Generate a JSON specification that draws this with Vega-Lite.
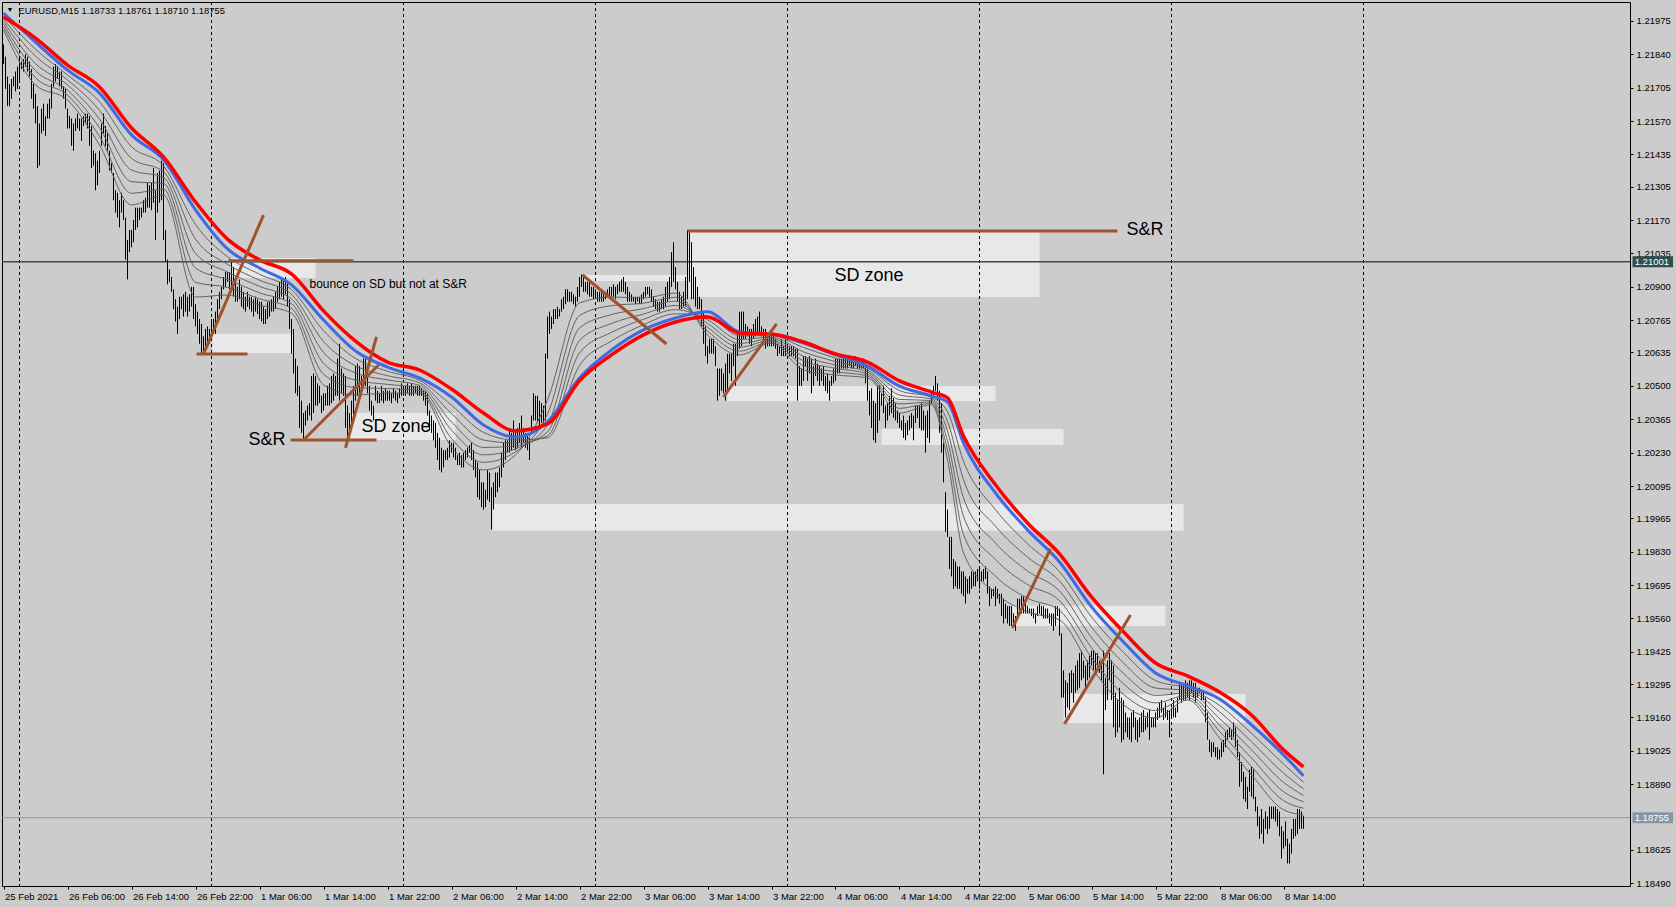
{
"$schema":"https://vega.github.io/schema/vega-lite/v6.json",
"width":1628,"height":884,
"autosize":{"type":"none"},
"padding":{"left":2,"top":2,"right":46,"bottom":21},
"background":"#CCCCCC",
"config":{"view":{"stroke":"#000000","strokeWidth":1,"fill":"#CCCCCC"},
"axis":{"grid":false,"domain":false,"tickColor":"#000000","tickSize":3,"labelColor":"#000000","labelFont":"Liberation Sans","labelFontSize":9.5,"labelOverlap":false,"labelFlush":false},
"axisY":{"labelOverlap":false},"axisRight":{"labelOverlap":false},"axisQuantitative":{"labelOverlap":false}},
"datasets":{
"zones":[{"i1":113.5,"i2":156,"p1":1.21017,"p2":1.20936},{"i1":104.5,"i2":145,"p1":1.2071,"p2":1.20633},{"i1":173.5,"i2":226,"p1":1.2039,"p2":1.20281},{"i1":244.5,"i2":590,"p1":1.20023,"p2":1.19914},{"i1":342.5,"i2":518,"p1":1.21126,"p2":1.20859},{"i1":290,"i2":342.5,"p1":1.20948,"p2":1.20924},{"i1":362,"i2":496,"p1":1.20499,"p2":1.20439},{"i1":439,"i2":530,"p1":1.20326,"p2":1.20261},{"i1":504.5,"i2":581,"p1":1.19611,"p2":1.1953},{"i1":530,"i2":621,"p1":1.19255,"p2":1.19138}],
"seps":[{"i":8},{"i":104},{"i":200},{"i":296},{"i":392},{"i":488},{"i":584},{"i":680}],
"levels":[{"p":1.21001,"t":"1.21001","k":"hline"},{"p":1.18755,"t":"1.18755","k":"bid"}],
"segs":[{"i1":112.5,"i2":175,"p1":1.21005,"p2":1.21005},{"i1":100,"i2":130,"p1":1.20629,"p2":1.2119},{"i1":96.5,"i2":122,"p1":1.20629,"p2":1.20629},{"i1":143.5,"i2":186.5,"p1":1.20281,"p2":1.20281},{"i1":150,"i2":187.5,"p1":1.20281,"p2":1.20584},{"i1":171,"i2":186.5,"p1":1.20249,"p2":1.20698},{"i1":289.5,"i2":331.5,"p1":1.20948,"p2":1.20669},{"i1":342,"i2":557,"p1":1.21126,"p2":1.21126},{"i1":360,"i2":386.5,"p1":1.20455,"p2":1.2075},{"i1":504.5,"i2":523.5,"p1":1.19522,"p2":1.19841},{"i1":530.5,"i2":563.5,"p1":1.19134,"p2":1.19574}],
"notes":[{"i":1.5,"p":1.22019,"t":"▼","k":"glyph"},{"i":7.5,"p":1.22015,"t":"EURUSD,M15  1.18733 1.18761 1.18710 1.18755","k":"title"},{"i":153,"p":1.20912,"t":"bounce on SD but not at S&R","k":"small"},{"i":122.5,"p":1.20281,"t":"S&R","k":"big"},{"i":179,"p":1.20334,"t":"SD zone","k":"big"},{"i":415.5,"p":1.20944,"t":"SD zone","k":"big"},{"i":561.5,"p":1.2113,"t":"S&R","k":"big"}],
"ma":[
{"i":0,"r":1.2199,"b":1.22006,"g1":1.21995,"g2":1.21983,"g3":1.21972,"g4":1.21961,"g5":1.21949,"g6":1.21938},
{"i":16,"r":1.21905,"b":1.21889,"g1":1.2186,"g2":1.21832,"g3":1.21802,"g4":1.21773,"g5":1.21745,"g6":1.21716},
{"i":32,"r":1.21796,"b":1.21776,"g1":1.21756,"g2":1.21736,"g3":1.21716,"g4":1.21695,"g5":1.21675,"g6":1.21655},
{"i":48,"r":1.21708,"b":1.21683,"g1":1.21648,"g2":1.21613,"g3":1.21578,"g4":1.21543,"g5":1.21508,"g6":1.21473},
{"i":64,"r":1.21542,"b":1.21514,"g1":1.21466,"g2":1.21419,"g3":1.21372,"g4":1.21325,"g5":1.21278,"g6":1.21231},
{"i":80,"r":1.21425,"b":1.21413,"g1":1.21389,"g2":1.21365,"g3":1.21342,"g4":1.21318,"g5":1.21295,"g6":1.21271},
{"i":96,"r":1.21243,"b":1.21211,"g1":1.21152,"g2":1.21093,"g3":1.21035,"g4":1.20976,"g5":1.20918,"g6":1.20859},
{"i":112,"r":1.21093,"b":1.21053,"g1":1.21022,"g2":1.20991,"g3":1.2096,"g4":1.20929,"g5":1.20898,"g6":1.20867},
{"i":128,"r":1.21009,"b":1.20976,"g1":1.20951,"g2":1.20927,"g3":1.20902,"g4":1.20876,"g5":1.20852,"g6":1.20827},
{"i":144,"r":1.20952,"b":1.20908,"g1":1.20889,"g2":1.2087,"g3":1.20851,"g4":1.20832,"g5":1.20813,"g6":1.20794},
{"i":160,"r":1.20803,"b":1.20766,"g1":1.20723,"g2":1.20679,"g3":1.20635,"g4":1.20591,"g5":1.20547,"g6":1.20504},
{"i":176,"r":1.20681,"b":1.20641,"g1":1.20611,"g2":1.20581,"g3":1.20552,"g4":1.20523,"g5":1.20493,"g6":1.20463},
{"i":192,"r":1.20596,"b":1.20576,"g1":1.20559,"g2":1.20541,"g3":1.20524,"g4":1.20506,"g5":1.20489,"g6":1.20471},
{"i":208,"r":1.20564,"b":1.20532,"g1":1.20522,"g2":1.20512,"g3":1.20502,"g4":1.20492,"g5":1.20481,"g6":1.20471},
{"i":224,"r":1.20487,"b":1.20455,"g1":1.20422,"g2":1.20388,"g3":1.20354,"g4":1.20321,"g5":1.20287,"g6":1.20253},
{"i":240,"r":1.2039,"b":1.20342,"g1":1.20312,"g2":1.20281,"g3":1.20251,"g4":1.20221,"g5":1.20191,"g6":1.2016},
{"i":256,"r":1.20318,"b":1.20293,"g1":1.20281,"g2":1.20269,"g3":1.20257,"g4":1.20245,"g5":1.20233,"g6":1.20221},
{"i":272,"r":1.20346,"b":1.20354,"g1":1.2029,"g2":1.20298,"g3":1.20314,"g4":1.20342,"g5":1.20386,"g6":1.20443},
{"i":288,"r":1.2052,"b":1.20532,"g1":1.20582,"g2":1.20633,"g3":1.20683,"g4":1.20734,"g5":1.20784,"g6":1.20835},
{"i":304,"r":1.20625,"b":1.20645,"g1":1.20681,"g2":1.20716,"g3":1.20752,"g4":1.20788,"g5":1.20824,"g6":1.20859},
{"i":320,"r":1.20706,"b":1.20726,"g1":1.20747,"g2":1.20769,"g3":1.2079,"g4":1.20812,"g5":1.20834,"g6":1.20855},
{"i":336,"r":1.20758,"b":1.20774,"g1":1.20791,"g2":1.20808,"g3":1.20825,"g4":1.20842,"g5":1.20858,"g6":1.20875},
{"i":352,"r":1.20778,"b":1.20799,"g1":1.20783,"g2":1.20767,"g3":1.20752,"g4":1.20737,"g5":1.20721,"g6":1.20706},
{"i":368,"r":1.20714,"b":1.20718,"g1":1.20702,"g2":1.20687,"g3":1.20671,"g4":1.20656,"g5":1.2064,"g6":1.20625},
{"i":384,"r":1.20709,"b":1.20709,"g1":1.20703,"g2":1.20697,"g3":1.20691,"g4":1.20685,"g5":1.20679,"g6":1.20673},
{"i":400,"r":1.20677,"b":1.20673,"g1":1.20655,"g2":1.20637,"g3":1.20619,"g4":1.20601,"g5":1.20582,"g6":1.20564},
{"i":416,"r":1.20629,"b":1.20625,"g1":1.20612,"g2":1.20598,"g3":1.20584,"g4":1.20571,"g5":1.20557,"g6":1.20544},
{"i":432,"r":1.20596,"b":1.2058,"g1":1.20572,"g2":1.20564,"g3":1.20556,"g4":1.20548,"g5":1.2054,"g6":1.20532},
{"i":448,"r":1.2052,"b":1.20499,"g1":1.20481,"g2":1.20463,"g3":1.20445,"g4":1.20427,"g5":1.20409,"g6":1.2039},
{"i":464,"r":1.20475,"b":1.20459,"g1":1.20453,"g2":1.20447,"g3":1.20441,"g4":1.20435,"g5":1.20429,"g6":1.20423},
{"i":472,"r":1.20451,"b":1.20435,"g1":1.20396,"g2":1.20357,"g3":1.20318,"g4":1.20278,"g5":1.2024,"g6":1.20201},
{"i":480,"r":1.20297,"b":1.20269,"g1":1.20195,"g2":1.20121,"g3":1.20047,"g4":1.19973,"g5":1.19899,"g6":1.19825},
{"i":496,"r":1.201,"b":1.20067,"g1":1.2,"g2":1.19933,"g3":1.19865,"g4":1.19798,"g5":1.19731,"g6":1.19663},
{"i":512,"r":1.19946,"b":1.19918,"g1":1.19862,"g2":1.19808,"g3":1.19752,"g4":1.19697,"g5":1.19642,"g6":1.19587},
{"i":528,"r":1.19821,"b":1.19788,"g1":1.19749,"g2":1.19711,"g3":1.19671,"g4":1.19632,"g5":1.19593,"g6":1.19554},
{"i":544,"r":1.19647,"b":1.19607,"g1":1.19566,"g2":1.19525,"g3":1.19483,"g4":1.19442,"g5":1.19402,"g6":1.1936},
{"i":560,"r":1.19506,"b":1.19465,"g1":1.19423,"g2":1.1938,"g3":1.19338,"g4":1.19296,"g5":1.19253,"g6":1.19211},
{"i":576,"r":1.1938,"b":1.1934,"g1":1.19309,"g2":1.19279,"g3":1.19249,"g4":1.19219,"g5":1.19188,"g6":1.19158},
{"i":592,"r":1.19328,"b":1.19288,"g1":1.19278,"g2":1.19269,"g3":1.19259,"g4":1.1925,"g5":1.1924,"g6":1.19231},
{"i":608,"r":1.19263,"b":1.19235,"g1":1.19209,"g2":1.19183,"g3":1.19156,"g4":1.1913,"g5":1.19104,"g6":1.19077},
{"i":624,"r":1.1917,"b":1.1913,"g1":1.19096,"g2":1.19062,"g3":1.19029,"g4":1.18996,"g5":1.18962,"g6":1.18928},
{"i":640,"r":1.19029,"b":1.19009,"g1":1.18972,"g2":1.18935,"g3":1.18898,"g4":1.1886,"g5":1.18824,"g6":1.18787},
{"i":650,"r":1.1896,"b":1.18924,"g1":1.18898,"g2":1.18871,"g3":1.18845,"g4":1.18819,"g5":1.18793,"g6":1.18766}
],
"bars":[
{"i":0,"h":1.2188,"l":1.2180},{"i":1,"h":1.2183,"l":1.2170},{"i":2,"h":1.2175,"l":1.2163},{"i":3,"h":1.2172,"l":1.2163},{"i":4,"h":1.2174,"l":1.2166},{"i":5,"h":1.2175,"l":1.2171},{"i":6,"h":1.2177,"l":1.2169},{"i":7,"h":1.2179,"l":1.2170},{"i":8,"h":1.2183,"l":1.2173},{"i":9,"h":1.2181,"l":1.2178},
{"i":10,"h":1.2182,"l":1.2177},{"i":11,"h":1.2184,"l":1.2179},{"i":12,"h":1.2183,"l":1.2177},{"i":13,"h":1.2181,"l":1.2175},{"i":14,"h":1.2178,"l":1.2166},{"i":15,"h":1.2172,"l":1.2162},{"i":16,"h":1.2168,"l":1.2156},{"i":17,"h":1.2163,"l":1.2138},{"i":18,"h":1.2156,"l":1.2139},{"i":19,"h":1.2162,"l":1.2152},
{"i":20,"h":1.2164,"l":1.2153},{"i":21,"h":1.2159,"l":1.2151},{"i":22,"h":1.2164,"l":1.2158},{"i":23,"h":1.2166,"l":1.2158},{"i":24,"h":1.2172,"l":1.2162},{"i":25,"h":1.2179,"l":1.2171},{"i":26,"h":1.2180,"l":1.2173},{"i":27,"h":1.2179,"l":1.2174},{"i":28,"h":1.2177,"l":1.2171},{"i":29,"h":1.2177,"l":1.2170},
{"i":30,"h":1.2171,"l":1.2166},{"i":31,"h":1.2170,"l":1.2162},{"i":32,"h":1.2162,"l":1.2154},{"i":33,"h":1.2159,"l":1.2154},{"i":34,"h":1.2158,"l":1.2147},{"i":35,"h":1.2156,"l":1.2145},{"i":36,"h":1.2158,"l":1.2153},{"i":37,"h":1.2160,"l":1.2154},{"i":38,"h":1.2158,"l":1.2153},{"i":39,"h":1.2158,"l":1.2149},
{"i":40,"h":1.2159,"l":1.2155},{"i":41,"h":1.2160,"l":1.2156},{"i":42,"h":1.2160,"l":1.2154},{"i":43,"h":1.2159,"l":1.2147},{"i":44,"h":1.2155,"l":1.2138},{"i":45,"h":1.2145,"l":1.2139},{"i":46,"h":1.2144,"l":1.2129},{"i":47,"h":1.2141,"l":1.2131},{"i":48,"h":1.2145,"l":1.2136},{"i":49,"h":1.2156,"l":1.2147},
{"i":50,"h":1.2160,"l":1.2152},{"i":51,"h":1.2155,"l":1.2147},{"i":52,"h":1.2152,"l":1.2145},{"i":53,"h":1.2145,"l":1.2137},{"i":54,"h":1.2140,"l":1.2136},{"i":55,"h":1.2136,"l":1.2125},{"i":56,"h":1.2129,"l":1.2120},{"i":57,"h":1.2128,"l":1.2118},{"i":58,"h":1.2125,"l":1.2114},{"i":59,"h":1.2128,"l":1.2120},
{"i":60,"h":1.2125,"l":1.2117},{"i":61,"h":1.2118,"l":1.2101},{"i":62,"h":1.2109,"l":1.2093},{"i":63,"h":1.2113,"l":1.2104},{"i":64,"h":1.2113,"l":1.2106},{"i":65,"h":1.2117,"l":1.2108},{"i":66,"h":1.2122,"l":1.2113},{"i":67,"h":1.2122,"l":1.2114},{"i":68,"h":1.2122,"l":1.2117},{"i":69,"h":1.2122,"l":1.2118},
{"i":70,"h":1.2125,"l":1.2120},{"i":71,"h":1.2126,"l":1.2120},{"i":72,"h":1.2132,"l":1.2122},{"i":73,"h":1.2131,"l":1.2122},{"i":74,"h":1.2132,"l":1.2121},{"i":75,"h":1.2138,"l":1.2124},{"i":76,"h":1.2129,"l":1.2109},{"i":77,"h":1.2136,"l":1.2120},{"i":78,"h":1.2137,"l":1.2124},{"i":79,"h":1.2141,"l":1.2125},
{"i":80,"h":1.2140,"l":1.2109},{"i":81,"h":1.2113,"l":1.2100},{"i":82,"h":1.2101,"l":1.2091},{"i":83,"h":1.2097,"l":1.2092},{"i":84,"h":1.2094,"l":1.2088},{"i":85,"h":1.2089,"l":1.2081},{"i":86,"h":1.2085,"l":1.2076},{"i":87,"h":1.2082,"l":1.2071},{"i":88,"h":1.2086,"l":1.2077},{"i":89,"h":1.2086,"l":1.2081},
{"i":90,"h":1.2087,"l":1.2078},{"i":91,"h":1.2088,"l":1.2080},{"i":92,"h":1.2086,"l":1.2078},{"i":93,"h":1.2087,"l":1.2080},{"i":94,"h":1.2090,"l":1.2082},{"i":95,"h":1.2090,"l":1.2077},{"i":96,"h":1.2083,"l":1.2074},{"i":97,"h":1.2080,"l":1.2071},{"i":98,"h":1.2077,"l":1.2067},{"i":99,"h":1.2075,"l":1.2063},
{"i":100,"h":1.2070,"l":1.2063},{"i":101,"h":1.2073,"l":1.2065},{"i":102,"h":1.2074,"l":1.2066},{"i":103,"h":1.2073,"l":1.2067},{"i":104,"h":1.2077,"l":1.2071},{"i":105,"h":1.2077,"l":1.2071},{"i":106,"h":1.2080,"l":1.2071},{"i":107,"h":1.2085,"l":1.2077},{"i":108,"h":1.2088,"l":1.2081},{"i":109,"h":1.2090,"l":1.2085},
{"i":110,"h":1.2094,"l":1.2089},{"i":111,"h":1.2096,"l":1.2090},{"i":112,"h":1.2096,"l":1.2092},{"i":113,"h":1.2096,"l":1.2089},{"i":114,"h":1.2100,"l":1.2090},{"i":115,"h":1.2098,"l":1.2086},{"i":116,"h":1.2092,"l":1.2084},{"i":117,"h":1.2090,"l":1.2084},{"i":118,"h":1.2093,"l":1.2085},{"i":119,"h":1.2090,"l":1.2082},
{"i":120,"h":1.2088,"l":1.2081},{"i":121,"h":1.2086,"l":1.2080},{"i":122,"h":1.2088,"l":1.2082},{"i":123,"h":1.2086,"l":1.2081},{"i":124,"h":1.2086,"l":1.2080},{"i":125,"h":1.2085,"l":1.2078},{"i":126,"h":1.2086,"l":1.2080},{"i":127,"h":1.2085,"l":1.2079},{"i":128,"h":1.2084,"l":1.2077},{"i":129,"h":1.2084,"l":1.2076},
{"i":130,"h":1.2082,"l":1.2075},{"i":131,"h":1.2081,"l":1.2075},{"i":132,"h":1.2084,"l":1.2077},{"i":133,"h":1.2084,"l":1.2078},{"i":134,"h":1.2085,"l":1.2080},{"i":135,"h":1.2086,"l":1.2080},{"i":136,"h":1.2088,"l":1.2081},{"i":137,"h":1.2090,"l":1.2084},{"i":138,"h":1.2092,"l":1.2085},{"i":139,"h":1.2094,"l":1.2086},
{"i":140,"h":1.2093,"l":1.2085},{"i":141,"h":1.2094,"l":1.2087},{"i":142,"h":1.2092,"l":1.2082},{"i":143,"h":1.2085,"l":1.2073},{"i":144,"h":1.2077,"l":1.2063},{"i":145,"h":1.2073,"l":1.2055},{"i":146,"h":1.2061,"l":1.2047},{"i":147,"h":1.2058,"l":1.2046},{"i":148,"h":1.2050,"l":1.2033},{"i":149,"h":1.2044,"l":1.2031},
{"i":150,"h":1.2039,"l":1.2028},{"i":151,"h":1.2040,"l":1.2034},{"i":152,"h":1.2042,"l":1.2036},{"i":153,"h":1.2043,"l":1.2038},{"i":154,"h":1.2054,"l":1.2036},{"i":155,"h":1.2055,"l":1.2039},{"i":156,"h":1.2054,"l":1.2042},{"i":157,"h":1.2051,"l":1.2042},{"i":158,"h":1.2050,"l":1.2043},{"i":159,"h":1.2046,"l":1.2039},
{"i":160,"h":1.2047,"l":1.2040},{"i":161,"h":1.2047,"l":1.2042},{"i":162,"h":1.2050,"l":1.2042},{"i":163,"h":1.2051,"l":1.2042},{"i":164,"h":1.2054,"l":1.2043},{"i":165,"h":1.2055,"l":1.2044},{"i":166,"h":1.2054,"l":1.2046},{"i":167,"h":1.2061,"l":1.2046},{"i":168,"h":1.2067,"l":1.2044},{"i":169,"h":1.2057,"l":1.2047},
{"i":170,"h":1.2055,"l":1.2046},{"i":171,"h":1.2054,"l":1.2033},{"i":172,"h":1.2042,"l":1.2028},{"i":173,"h":1.2039,"l":1.2029},{"i":174,"h":1.2044,"l":1.2033},{"i":175,"h":1.2050,"l":1.2038},{"i":176,"h":1.2058,"l":1.2044},{"i":177,"h":1.2059,"l":1.2046},{"i":178,"h":1.2058,"l":1.2047},{"i":179,"h":1.2054,"l":1.2047},
{"i":180,"h":1.2061,"l":1.2050},{"i":181,"h":1.2061,"l":1.2050},{"i":182,"h":1.2058,"l":1.2047},{"i":183,"h":1.2050,"l":1.2040},{"i":184,"h":1.2044,"l":1.2038},{"i":185,"h":1.2042,"l":1.2036},{"i":186,"h":1.2050,"l":1.2044},{"i":187,"h":1.2048,"l":1.2043},{"i":188,"h":1.2047,"l":1.2043},{"i":189,"h":1.2050,"l":1.2044},
{"i":190,"h":1.2048,"l":1.2043},{"i":191,"h":1.2049,"l":1.2044},{"i":192,"h":1.2048,"l":1.2044},{"i":193,"h":1.2048,"l":1.2044},{"i":194,"h":1.2047,"l":1.2043},{"i":195,"h":1.2049,"l":1.2045},{"i":196,"h":1.2048,"l":1.2044},{"i":197,"h":1.2047,"l":1.2043},{"i":198,"h":1.2049,"l":1.2045},{"i":199,"h":1.2051,"l":1.2046},
{"i":200,"h":1.2050,"l":1.2046},{"i":201,"h":1.2050,"l":1.2046},{"i":202,"h":1.2051,"l":1.2047},{"i":203,"h":1.2050,"l":1.2046},{"i":204,"h":1.2051,"l":1.2046},{"i":205,"h":1.2050,"l":1.2046},{"i":206,"h":1.2050,"l":1.2047},{"i":207,"h":1.2050,"l":1.2046},{"i":208,"h":1.2050,"l":1.2046},{"i":209,"h":1.2049,"l":1.2046},
{"i":210,"h":1.2048,"l":1.2044},{"i":211,"h":1.2048,"l":1.2042},{"i":212,"h":1.2047,"l":1.2038},{"i":213,"h":1.2040,"l":1.2032},{"i":214,"h":1.2038,"l":1.2031},{"i":215,"h":1.2036,"l":1.2028},{"i":216,"h":1.2035,"l":1.2025},{"i":217,"h":1.2031,"l":1.2020},{"i":218,"h":1.2029,"l":1.2016},{"i":219,"h":1.2025,"l":1.2015},
{"i":220,"h":1.2024,"l":1.2017},{"i":221,"h":1.2024,"l":1.2020},{"i":222,"h":1.2025,"l":1.2020},{"i":223,"h":1.2028,"l":1.2021},{"i":224,"h":1.2027,"l":1.2023},{"i":225,"h":1.2027,"l":1.2021},{"i":226,"h":1.2025,"l":1.2020},{"i":227,"h":1.2022,"l":1.2018},{"i":228,"h":1.2023,"l":1.2018},{"i":229,"h":1.2022,"l":1.2017},
{"i":230,"h":1.2023,"l":1.2017},{"i":231,"h":1.2024,"l":1.2020},{"i":232,"h":1.2025,"l":1.2021},{"i":233,"h":1.2026,"l":1.2023},{"i":234,"h":1.2027,"l":1.2020},{"i":235,"h":1.2024,"l":1.2016},{"i":236,"h":1.2020,"l":1.2013},{"i":237,"h":1.2019,"l":1.2005},{"i":238,"h":1.2016,"l":1.2004},{"i":239,"h":1.2011,"l":1.2001},
{"i":240,"h":1.2011,"l":1.2000},{"i":241,"h":1.2008,"l":1.2001},{"i":242,"h":1.2016,"l":1.2004},{"i":243,"h":1.2015,"l":1.2003},{"i":244,"h":1.2009,"l":1.1992},{"i":245,"h":1.2011,"l":1.2000},{"i":246,"h":1.2015,"l":1.2005},{"i":247,"h":1.2015,"l":1.2007},{"i":248,"h":1.2017,"l":1.2009},{"i":249,"h":1.2023,"l":1.2013},
{"i":250,"h":1.2027,"l":1.2017},{"i":251,"h":1.2028,"l":1.2020},{"i":252,"h":1.2028,"l":1.2023},{"i":253,"h":1.2033,"l":1.2023},{"i":254,"h":1.2031,"l":1.2024},{"i":255,"h":1.2036,"l":1.2025},{"i":256,"h":1.2032,"l":1.2024},{"i":257,"h":1.2033,"l":1.2025},{"i":258,"h":1.2035,"l":1.2027},{"i":259,"h":1.2038,"l":1.2025},
{"i":260,"h":1.2033,"l":1.2027},{"i":261,"h":1.2031,"l":1.2025},{"i":262,"h":1.2031,"l":1.2024},{"i":263,"h":1.2029,"l":1.2020},{"i":264,"h":1.2038,"l":1.2031},{"i":265,"h":1.2047,"l":1.2036},{"i":266,"h":1.2046,"l":1.2036},{"i":267,"h":1.2046,"l":1.2035},{"i":268,"h":1.2044,"l":1.2033},{"i":269,"h":1.2043,"l":1.2035},
{"i":270,"h":1.2042,"l":1.2035},{"i":271,"h":1.2063,"l":1.2036},{"i":272,"h":1.2078,"l":1.2061},{"i":273,"h":1.2080,"l":1.2071},{"i":274,"h":1.2078,"l":1.2073},{"i":275,"h":1.2081,"l":1.2075},{"i":276,"h":1.2081,"l":1.2077},{"i":277,"h":1.2082,"l":1.2077},{"i":278,"h":1.2081,"l":1.2078},{"i":279,"h":1.2085,"l":1.2080},
{"i":280,"h":1.2086,"l":1.2081},{"i":281,"h":1.2089,"l":1.2083},{"i":282,"h":1.2089,"l":1.2084},{"i":283,"h":1.2088,"l":1.2084},{"i":284,"h":1.2088,"l":1.2084},{"i":285,"h":1.2087,"l":1.2083},{"i":286,"h":1.2086,"l":1.2082},{"i":287,"h":1.2090,"l":1.2084},{"i":288,"h":1.2094,"l":1.2086},{"i":289,"h":1.2095,"l":1.2090},
{"i":290,"h":1.2094,"l":1.2088},{"i":291,"h":1.2092,"l":1.2088},{"i":292,"h":1.2092,"l":1.2087},{"i":293,"h":1.2092,"l":1.2086},{"i":294,"h":1.2090,"l":1.2086},{"i":295,"h":1.2090,"l":1.2085},{"i":296,"h":1.2089,"l":1.2086},{"i":297,"h":1.2088,"l":1.2084},{"i":298,"h":1.2088,"l":1.2084},{"i":299,"h":1.2088,"l":1.2084},
{"i":300,"h":1.2088,"l":1.2084},{"i":301,"h":1.2088,"l":1.2085},{"i":302,"h":1.2089,"l":1.2086},{"i":303,"h":1.2090,"l":1.2086},{"i":304,"h":1.2090,"l":1.2086},{"i":305,"h":1.2091,"l":1.2086},{"i":306,"h":1.2090,"l":1.2085},{"i":307,"h":1.2091,"l":1.2087},{"i":308,"h":1.2092,"l":1.2088},{"i":309,"h":1.2093,"l":1.2088},
{"i":310,"h":1.2094,"l":1.2088},{"i":311,"h":1.2092,"l":1.2087},{"i":312,"h":1.2090,"l":1.2084},{"i":313,"h":1.2088,"l":1.2084},{"i":314,"h":1.2087,"l":1.2084},{"i":315,"h":1.2086,"l":1.2084},{"i":316,"h":1.2086,"l":1.2083},{"i":317,"h":1.2086,"l":1.2084},{"i":318,"h":1.2086,"l":1.2083},{"i":319,"h":1.2087,"l":1.2083},
{"i":320,"h":1.2088,"l":1.2085},{"i":321,"h":1.2090,"l":1.2086},{"i":322,"h":1.2090,"l":1.2087},{"i":323,"h":1.2090,"l":1.2086},{"i":324,"h":1.2089,"l":1.2084},{"i":325,"h":1.2086,"l":1.2082},{"i":326,"h":1.2085,"l":1.2081},{"i":327,"h":1.2084,"l":1.2080},{"i":328,"h":1.2084,"l":1.2080},{"i":329,"h":1.2085,"l":1.2081},
{"i":330,"h":1.2086,"l":1.2081},{"i":331,"h":1.2090,"l":1.2082},{"i":332,"h":1.2092,"l":1.2084},{"i":333,"h":1.2094,"l":1.2085},{"i":334,"h":1.2104,"l":1.2090},{"i":335,"h":1.2108,"l":1.2092},{"i":336,"h":1.2098,"l":1.2089},{"i":337,"h":1.2092,"l":1.2084},{"i":338,"h":1.2088,"l":1.2081},{"i":339,"h":1.2086,"l":1.2081},
{"i":340,"h":1.2088,"l":1.2082},{"i":341,"h":1.2094,"l":1.2082},{"i":342,"h":1.2113,"l":1.2085},{"i":343,"h":1.2112,"l":1.2092},{"i":344,"h":1.2108,"l":1.2085},{"i":345,"h":1.2098,"l":1.2085},{"i":346,"h":1.2094,"l":1.2082},{"i":347,"h":1.2090,"l":1.2081},{"i":348,"h":1.2086,"l":1.2081},{"i":349,"h":1.2085,"l":1.2074},
{"i":350,"h":1.2080,"l":1.2067},{"i":351,"h":1.2074,"l":1.2062},{"i":352,"h":1.2066,"l":1.2059},{"i":353,"h":1.2069,"l":1.2063},{"i":354,"h":1.2069,"l":1.2063},{"i":355,"h":1.2069,"l":1.2063},{"i":356,"h":1.2066,"l":1.2058},{"i":357,"h":1.2057,"l":1.2044},{"i":358,"h":1.2057,"l":1.2046},{"i":359,"h":1.2057,"l":1.2048},
{"i":360,"h":1.2055,"l":1.2047},{"i":361,"h":1.2059,"l":1.2044},{"i":362,"h":1.2063,"l":1.2047},{"i":363,"h":1.2063,"l":1.2055},{"i":364,"h":1.2063,"l":1.2052},{"i":365,"h":1.2067,"l":1.2058},{"i":366,"h":1.2067,"l":1.2050},{"i":367,"h":1.2071,"l":1.2062},{"i":368,"h":1.2080,"l":1.2065},{"i":369,"h":1.2080,"l":1.2066},
{"i":370,"h":1.2080,"l":1.2069},{"i":371,"h":1.2075,"l":1.2069},{"i":372,"h":1.2074,"l":1.2070},{"i":373,"h":1.2073,"l":1.2067},{"i":374,"h":1.2073,"l":1.2066},{"i":375,"h":1.2075,"l":1.2069},{"i":376,"h":1.2077,"l":1.2070},{"i":377,"h":1.2078,"l":1.2071},{"i":378,"h":1.2080,"l":1.2071},{"i":379,"h":1.2074,"l":1.2070},
{"i":380,"h":1.2073,"l":1.2069},{"i":381,"h":1.2073,"l":1.2065},{"i":382,"h":1.2071,"l":1.2066},{"i":383,"h":1.2071,"l":1.2066},{"i":384,"h":1.2071,"l":1.2066},{"i":385,"h":1.2070,"l":1.2066},{"i":386,"h":1.2069,"l":1.2065},{"i":387,"h":1.2067,"l":1.2062},{"i":388,"h":1.2066,"l":1.2063},{"i":389,"h":1.2069,"l":1.2062},
{"i":390,"h":1.2066,"l":1.2062},{"i":391,"h":1.2069,"l":1.2062},{"i":392,"h":1.2067,"l":1.2063},{"i":393,"h":1.2066,"l":1.2062},{"i":394,"h":1.2066,"l":1.2062},{"i":395,"h":1.2066,"l":1.2062},{"i":396,"h":1.2065,"l":1.2061},{"i":397,"h":1.2065,"l":1.2044},{"i":398,"h":1.2058,"l":1.2050},{"i":399,"h":1.2057,"l":1.2050},
{"i":400,"h":1.2062,"l":1.2052},{"i":401,"h":1.2062,"l":1.2058},{"i":402,"h":1.2061,"l":1.2052},{"i":403,"h":1.2062,"l":1.2055},{"i":404,"h":1.2061,"l":1.2047},{"i":405,"h":1.2058,"l":1.2050},{"i":406,"h":1.2061,"l":1.2054},{"i":407,"h":1.2059,"l":1.2052},{"i":408,"h":1.2058,"l":1.2050},{"i":409,"h":1.2057,"l":1.2052},
{"i":410,"h":1.2058,"l":1.2050},{"i":411,"h":1.2054,"l":1.2048},{"i":412,"h":1.2055,"l":1.2047},{"i":413,"h":1.2052,"l":1.2044},{"i":414,"h":1.2054,"l":1.2050},{"i":415,"h":1.2057,"l":1.2051},{"i":416,"h":1.2061,"l":1.2052},{"i":417,"h":1.2061,"l":1.2055},{"i":418,"h":1.2061,"l":1.2055},{"i":419,"h":1.2061,"l":1.2057},
{"i":420,"h":1.2062,"l":1.2057},{"i":421,"h":1.2062,"l":1.2057},{"i":422,"h":1.2062,"l":1.2057},{"i":423,"h":1.2062,"l":1.2058},{"i":424,"h":1.2061,"l":1.2057},{"i":425,"h":1.2061,"l":1.2057},{"i":426,"h":1.2062,"l":1.2058},{"i":427,"h":1.2061,"l":1.2057},{"i":428,"h":1.2061,"l":1.2057},{"i":429,"h":1.2061,"l":1.2057},
{"i":430,"h":1.2061,"l":1.2057},{"i":431,"h":1.2059,"l":1.2051},{"i":432,"h":1.2057,"l":1.2044},{"i":433,"h":1.2048,"l":1.2038},{"i":434,"h":1.2049,"l":1.2033},{"i":435,"h":1.2044,"l":1.2028},{"i":436,"h":1.2043,"l":1.2027},{"i":437,"h":1.2050,"l":1.2031},{"i":438,"h":1.2050,"l":1.2036},{"i":439,"h":1.2047,"l":1.2042},
{"i":440,"h":1.2050,"l":1.2039},{"i":441,"h":1.2042,"l":1.2033},{"i":442,"h":1.2043,"l":1.2036},{"i":443,"h":1.2046,"l":1.2038},{"i":444,"h":1.2049,"l":1.2039},{"i":445,"h":1.2045,"l":1.2037},{"i":446,"h":1.2043,"l":1.2036},{"i":447,"h":1.2040,"l":1.2035},{"i":448,"h":1.2039,"l":1.2033},{"i":449,"h":1.2036,"l":1.2032},
{"i":450,"h":1.2038,"l":1.2029},{"i":451,"h":1.2035,"l":1.2028},{"i":452,"h":1.2036,"l":1.2030},{"i":453,"h":1.2038,"l":1.2032},{"i":454,"h":1.2039,"l":1.2033},{"i":455,"h":1.2038,"l":1.2028},{"i":456,"h":1.2042,"l":1.2035},{"i":457,"h":1.2042,"l":1.2037},{"i":458,"h":1.2042,"l":1.2033},{"i":459,"h":1.2043,"l":1.2032},
{"i":460,"h":1.2040,"l":1.2032},{"i":461,"h":1.2038,"l":1.2023},{"i":462,"h":1.2040,"l":1.2029},{"i":463,"h":1.2044,"l":1.2027},{"i":464,"h":1.2047,"l":1.2043},{"i":465,"h":1.2050,"l":1.2046},{"i":466,"h":1.2054,"l":1.2048},{"i":467,"h":1.2051,"l":1.2044},{"i":468,"h":1.2048,"l":1.2031},{"i":469,"h":1.2043,"l":1.2023},
{"i":470,"h":1.2027,"l":1.2011},{"i":471,"h":1.2007,"l":1.1991},{"i":472,"h":1.2000,"l":1.1989},{"i":473,"h":1.1989,"l":1.1976},{"i":474,"h":1.1989,"l":1.1973},{"i":475,"h":1.1980,"l":1.1968},{"i":476,"h":1.1979,"l":1.1969},{"i":477,"h":1.1977,"l":1.1968},{"i":478,"h":1.1977,"l":1.1968},{"i":479,"h":1.1975,"l":1.1966},
{"i":480,"h":1.1975,"l":1.1965},{"i":481,"h":1.1973,"l":1.1962},{"i":482,"h":1.1972,"l":1.1966},{"i":483,"h":1.1973,"l":1.1966},{"i":484,"h":1.1975,"l":1.1968},{"i":485,"h":1.1975,"l":1.1969},{"i":486,"h":1.1975,"l":1.1969},{"i":487,"h":1.1976,"l":1.1971},{"i":488,"h":1.1976,"l":1.1968},{"i":489,"h":1.1975,"l":1.1971},
{"i":490,"h":1.1976,"l":1.1971},{"i":491,"h":1.1977,"l":1.1972},{"i":492,"h":1.1975,"l":1.1966},{"i":493,"h":1.1969,"l":1.1961},{"i":494,"h":1.1968,"l":1.1964},{"i":495,"h":1.1968,"l":1.1965},{"i":496,"h":1.1969,"l":1.1961},{"i":497,"h":1.1968,"l":1.1964},{"i":498,"h":1.1966,"l":1.1962},{"i":499,"h":1.1966,"l":1.1957},
{"i":500,"h":1.1964,"l":1.1954},{"i":501,"h":1.1962,"l":1.1956},{"i":502,"h":1.1961,"l":1.1954},{"i":503,"h":1.1961,"l":1.1953},{"i":504,"h":1.1961,"l":1.1953},{"i":505,"h":1.1958,"l":1.1953},{"i":506,"h":1.1957,"l":1.1951},{"i":507,"h":1.1964,"l":1.1956},{"i":508,"h":1.1964,"l":1.1957},{"i":509,"h":1.1965,"l":1.1958},
{"i":510,"h":1.1965,"l":1.1958},{"i":511,"h":1.1964,"l":1.1958},{"i":512,"h":1.1961,"l":1.1958},{"i":513,"h":1.1960,"l":1.1958},{"i":514,"h":1.1960,"l":1.1957},{"i":515,"h":1.1960,"l":1.1956},{"i":516,"h":1.1958,"l":1.1954},{"i":517,"h":1.1961,"l":1.1957},{"i":518,"h":1.1962,"l":1.1958},{"i":519,"h":1.1961,"l":1.1957},
{"i":520,"h":1.1961,"l":1.1956},{"i":521,"h":1.1960,"l":1.1956},{"i":522,"h":1.1960,"l":1.1956},{"i":523,"h":1.1958,"l":1.1954},{"i":524,"h":1.1958,"l":1.1953},{"i":525,"h":1.1958,"l":1.1951},{"i":526,"h":1.1961,"l":1.1953},{"i":527,"h":1.1961,"l":1.1957},{"i":528,"h":1.1960,"l":1.1949},{"i":529,"h":1.1950,"l":1.1924},
{"i":530,"h":1.1935,"l":1.1924},{"i":531,"h":1.1931,"l":1.1916},{"i":532,"h":1.1930,"l":1.1920},{"i":533,"h":1.1934,"l":1.1919},{"i":534,"h":1.1935,"l":1.1926},{"i":535,"h":1.1934,"l":1.1922},{"i":536,"h":1.1937,"l":1.1926},{"i":537,"h":1.1939,"l":1.1927},{"i":538,"h":1.1942,"l":1.1928},{"i":539,"h":1.1943,"l":1.1931},
{"i":540,"h":1.1939,"l":1.1932},{"i":541,"h":1.1937,"l":1.1928},{"i":542,"h":1.1939,"l":1.1931},{"i":543,"h":1.1941,"l":1.1932},{"i":544,"h":1.1943,"l":1.1937},{"i":545,"h":1.1943,"l":1.1935},{"i":546,"h":1.1942,"l":1.1934},{"i":547,"h":1.1942,"l":1.1935},{"i":548,"h":1.1939,"l":1.1934},{"i":549,"h":1.1938,"l":1.1931},
{"i":550,"h":1.1943,"l":1.1893},{"i":551,"h":1.1932,"l":1.1919},{"i":552,"h":1.1939,"l":1.1923},{"i":553,"h":1.1942,"l":1.1931},{"i":554,"h":1.1939,"l":1.1923},{"i":555,"h":1.1937,"l":1.1912},{"i":556,"h":1.1926,"l":1.1908},{"i":557,"h":1.1923,"l":1.1910},{"i":558,"h":1.1928,"l":1.1912},{"i":559,"h":1.1924,"l":1.1906},
{"i":560,"h":1.1923,"l":1.1907},{"i":561,"h":1.1918,"l":1.1910},{"i":562,"h":1.1916,"l":1.1908},{"i":563,"h":1.1916,"l":1.1907},{"i":564,"h":1.1918,"l":1.1906},{"i":565,"h":1.1919,"l":1.1912},{"i":566,"h":1.1916,"l":1.1907},{"i":567,"h":1.1915,"l":1.1906},{"i":568,"h":1.1916,"l":1.1908},{"i":569,"h":1.1918,"l":1.1910},
{"i":570,"h":1.1919,"l":1.1910},{"i":571,"h":1.1916,"l":1.1911},{"i":572,"h":1.1918,"l":1.1912},{"i":573,"h":1.1919,"l":1.1907},{"i":574,"h":1.1916,"l":1.1912},{"i":575,"h":1.1916,"l":1.1912},{"i":576,"h":1.1918,"l":1.1912},{"i":577,"h":1.1920,"l":1.1915},{"i":578,"h":1.1922,"l":1.1916},{"i":579,"h":1.1923,"l":1.1918},
{"i":580,"h":1.1920,"l":1.1915},{"i":581,"h":1.1922,"l":1.1916},{"i":582,"h":1.1919,"l":1.1915},{"i":583,"h":1.1919,"l":1.1908},{"i":584,"h":1.1920,"l":1.1916},{"i":585,"h":1.1923,"l":1.1916},{"i":586,"h":1.1920,"l":1.1916},{"i":587,"h":1.1924,"l":1.1918},{"i":588,"h":1.1930,"l":1.1923},{"i":589,"h":1.1930,"l":1.1922},
{"i":590,"h":1.1930,"l":1.1923},{"i":591,"h":1.1931,"l":1.1923},{"i":592,"h":1.1930,"l":1.1924},{"i":593,"h":1.1931,"l":1.1923},{"i":594,"h":1.1931,"l":1.1926},{"i":595,"h":1.1930,"l":1.1924},{"i":596,"h":1.1930,"l":1.1922},{"i":597,"h":1.1928,"l":1.1924},{"i":598,"h":1.1928,"l":1.1926},{"i":599,"h":1.1927,"l":1.1923},
{"i":600,"h":1.1927,"l":1.1923},{"i":601,"h":1.1924,"l":1.1914},{"i":602,"h":1.1918,"l":1.1907},{"i":603,"h":1.1907,"l":1.1902},{"i":604,"h":1.1906,"l":1.1900},{"i":605,"h":1.1906,"l":1.1902},{"i":606,"h":1.1904,"l":1.1900},{"i":607,"h":1.1904,"l":1.1899},{"i":608,"h":1.1903,"l":1.1899},{"i":609,"h":1.1906,"l":1.1900},
{"i":610,"h":1.1907,"l":1.1902},{"i":611,"h":1.1910,"l":1.1904},{"i":612,"h":1.1911,"l":1.1907},{"i":613,"h":1.1912,"l":1.1908},{"i":614,"h":1.1911,"l":1.1907},{"i":615,"h":1.1914,"l":1.1908},{"i":616,"h":1.1912,"l":1.1904},{"i":617,"h":1.1907,"l":1.1900},{"i":618,"h":1.1902,"l":1.1888},{"i":619,"h":1.1898,"l":1.1890},
{"i":620,"h":1.1894,"l":1.1883},{"i":621,"h":1.1892,"l":1.1882},{"i":622,"h":1.1888,"l":1.1879},{"i":623,"h":1.1895,"l":1.1886},{"i":624,"h":1.1896,"l":1.1884},{"i":625,"h":1.1895,"l":1.1883},{"i":626,"h":1.1884,"l":1.1878},{"i":627,"h":1.1880,"l":1.1872},{"i":628,"h":1.1876,"l":1.1867},{"i":629,"h":1.1879,"l":1.1869},
{"i":630,"h":1.1875,"l":1.1865},{"i":631,"h":1.1878,"l":1.1871},{"i":632,"h":1.1876,"l":1.1869},{"i":633,"h":1.1880,"l":1.1871},{"i":634,"h":1.1880,"l":1.1875},{"i":635,"h":1.1880,"l":1.1875},{"i":636,"h":1.1880,"l":1.1874},{"i":637,"h":1.1879,"l":1.1872},{"i":638,"h":1.1878,"l":1.1868},{"i":639,"h":1.1872,"l":1.1859},
{"i":640,"h":1.1870,"l":1.1863},{"i":641,"h":1.1874,"l":1.1864},{"i":642,"h":1.1867,"l":1.1857},{"i":643,"h":1.1865,"l":1.1857},{"i":644,"h":1.1871,"l":1.1861},{"i":645,"h":1.1875,"l":1.1867},{"i":646,"h":1.1875,"l":1.1868},{"i":647,"h":1.1879,"l":1.1869},{"i":648,"h":1.1879,"l":1.1871},{"i":649,"h":1.1878,"l":1.1871},
{"i":650,"h":1.18761,"l":1.1871}
]
},
"layer":[
{"data":{"name":"zones"},"mark":{"type":"rect","fill":"#E8E8E8","stroke":null},
 "encoding":{
  "x":{"field":"i1","type":"quantitative","title":null,"scale":{"domain":[-0.75,813.25],"nice":false,"zero":false},
   "axis":{"orient":"bottom","values":[0,32,64,96,128,160,192,224,256,288,320,352,384,416,448,480,512,544,576,608,640],"labelAlign":"left","labelBaseline":"top","labelPadding":2,"labelOffset":1,"grid":false,"domain":false,"labelOverlap":false,"labelFlush":false,
   "labelExpr":"['25 Feb 2021','26 Feb 06:00','26 Feb 14:00','26 Feb 22:00','1 Mar 06:00','1 Mar 14:00','1 Mar 22:00','2 Mar 06:00','2 Mar 14:00','2 Mar 22:00','3 Mar 06:00','3 Mar 14:00','3 Mar 22:00','4 Mar 06:00','4 Mar 14:00','4 Mar 22:00','5 Mar 06:00','5 Mar 14:00','5 Mar 22:00','8 Mar 06:00','8 Mar 14:00'][round(datum.value/32)]"}},
  "x2":{"field":"i2"},
  "y":{"field":"p1","type":"quantitative","title":null,"scale":{"domain":[1.18479,1.22051],"nice":false,"zero":false},
   "axis":{"orient":"right","values":[1.21975,1.2184,1.21705,1.2157,1.21435,1.21305,1.2117,1.21035,1.209,1.20765,1.20635,1.205,1.20365,1.2023,1.20095,1.19965,1.1983,1.19695,1.1956,1.19425,1.19295,1.1916,1.19025,1.1889,1.18625,1.1849],"labelAlign":"left","labelBaseline":"middle","labelPadding":3,"grid":false,"domain":false,"labelOverlap":false,"labelFlush":false,"labelExpr":"format(datum.value,'.5f')"}},
  "y2":{"field":"p2"}}},
{"data":{"name":"seps"},"mark":{"type":"rule","color":"#000000","strokeWidth":1,"strokeDash":[3,3]},
 "encoding":{"x":{"field":"i","type":"quantitative","title":null,"scale":{"domain":[-0.75,813.25],"nice":false,"zero":false}}}},
{"data":{"name":"levels"},"mark":{"type":"rule"},
 "encoding":{"y":{"field":"p","type":"quantitative","title":null,"scale":{"domain":[1.18479,1.22051],"nice":false,"zero":false},
   "axis":{"orient":"right","values":[1.21975,1.2184,1.21705,1.2157,1.21435,1.21305,1.2117,1.21035,1.209,1.20765,1.20635,1.205,1.20365,1.2023,1.20095,1.19965,1.1983,1.19695,1.1956,1.19425,1.19295,1.1916,1.19025,1.1889,1.18625,1.1849],"labelAlign":"left","labelBaseline":"middle","labelPadding":3,"grid":false,"domain":false,"labelOverlap":false,"labelFlush":false,"labelExpr":"format(datum.value,'.5f')"}},
  "color":{"field":"k","type":"nominal","scale":{"domain":["hline","bid"],"range":["#2F4F4F","#8896A3"]},"legend":null},
  "strokeWidth":{"field":"k","type":"nominal","scale":{"type":"ordinal","domain":["hline","bid"],"range":[1.5,1]},"legend":null}}},
{"data":{"name":"bars"},"mark":{"type":"rule","color":"#000000","strokeWidth":1},
 "encoding":{"x":{"field":"i","type":"quantitative","title":null,"scale":{"domain":[-0.75,813.25],"nice":false,"zero":false}},
  "y":{"field":"h","type":"quantitative","title":null,"scale":{"domain":[1.18479,1.22051],"nice":false,"zero":false},
   "axis":{"orient":"right","values":[1.21975,1.2184,1.21705,1.2157,1.21435,1.21305,1.2117,1.21035,1.209,1.20765,1.20635,1.205,1.20365,1.2023,1.20095,1.19965,1.1983,1.19695,1.1956,1.19425,1.19295,1.1916,1.19025,1.1889,1.18625,1.1849],"labelAlign":"left","labelBaseline":"middle","labelPadding":3,"grid":false,"domain":false,"labelOverlap":false,"labelFlush":false,"labelExpr":"format(datum.value,'.5f')"}},
  "y2":{"field":"l"}}},
{"data":{"name":"ma"},"transform":[{"fold":["g1","g2","g3","g4","g5","g6"],"as":["k","v"]}],
 "mark":{"type":"line","color":"#626262","strokeWidth":1,"interpolate":"monotone"},
 "encoding":{"x":{"field":"i","type":"quantitative","title":null,"scale":{"domain":[-0.75,813.25],"nice":false,"zero":false}},
  "y":{"field":"v","type":"quantitative","title":null,"scale":{"domain":[1.18479,1.22051],"nice":false,"zero":false},
   "axis":{"orient":"right","values":[1.21975,1.2184,1.21705,1.2157,1.21435,1.21305,1.2117,1.21035,1.209,1.20765,1.20635,1.205,1.20365,1.2023,1.20095,1.19965,1.1983,1.19695,1.1956,1.19425,1.19295,1.1916,1.19025,1.1889,1.18625,1.1849],"labelAlign":"left","labelBaseline":"middle","labelPadding":3,"grid":false,"domain":false,"labelOverlap":false,"labelFlush":false,"labelExpr":"format(datum.value,'.5f')"}},
  "detail":{"field":"k"}}},
{"data":{"name":"ma"},"mark":{"type":"line","color":"#4169E1","strokeWidth":3,"interpolate":"monotone"},
 "encoding":{"x":{"field":"i","type":"quantitative","title":null,"scale":{"domain":[-0.75,813.25],"nice":false,"zero":false}},
  "y":{"field":"b","type":"quantitative","title":null,"scale":{"domain":[1.18479,1.22051],"nice":false,"zero":false},
   "axis":{"orient":"right","values":[1.21975,1.2184,1.21705,1.2157,1.21435,1.21305,1.2117,1.21035,1.209,1.20765,1.20635,1.205,1.20365,1.2023,1.20095,1.19965,1.1983,1.19695,1.1956,1.19425,1.19295,1.1916,1.19025,1.1889,1.18625,1.1849],"labelAlign":"left","labelBaseline":"middle","labelPadding":3,"grid":false,"domain":false,"labelOverlap":false,"labelFlush":false,"labelExpr":"format(datum.value,'.5f')"}}}},
{"data":{"name":"ma"},"mark":{"type":"line","color":"#FF0000","strokeWidth":3.5,"interpolate":"monotone"},
 "encoding":{"x":{"field":"i","type":"quantitative","title":null,"scale":{"domain":[-0.75,813.25],"nice":false,"zero":false}},
  "y":{"field":"r","type":"quantitative","title":null,"scale":{"domain":[1.18479,1.22051],"nice":false,"zero":false},
   "axis":{"orient":"right","values":[1.21975,1.2184,1.21705,1.2157,1.21435,1.21305,1.2117,1.21035,1.209,1.20765,1.20635,1.205,1.20365,1.2023,1.20095,1.19965,1.1983,1.19695,1.1956,1.19425,1.19295,1.1916,1.19025,1.1889,1.18625,1.1849],"labelAlign":"left","labelBaseline":"middle","labelPadding":3,"grid":false,"domain":false,"labelOverlap":false,"labelFlush":false,"labelExpr":"format(datum.value,'.5f')"}}}},
{"data":{"name":"segs"},"mark":{"type":"rule","color":"#A0522D","strokeWidth":3},
 "encoding":{"x":{"field":"i1","type":"quantitative","title":null,"scale":{"domain":[-0.75,813.25],"nice":false,"zero":false}},
  "x2":{"field":"i2"},
  "y":{"field":"p1","type":"quantitative","title":null,"scale":{"domain":[1.18479,1.22051],"nice":false,"zero":false},
   "axis":{"orient":"right","values":[1.21975,1.2184,1.21705,1.2157,1.21435,1.21305,1.2117,1.21035,1.209,1.20765,1.20635,1.205,1.20365,1.2023,1.20095,1.19965,1.1983,1.19695,1.1956,1.19425,1.19295,1.1916,1.19025,1.1889,1.18625,1.1849],"labelAlign":"left","labelBaseline":"middle","labelPadding":3,"grid":false,"domain":false,"labelOverlap":false,"labelFlush":false,"labelExpr":"format(datum.value,'.5f')"}},
  "y2":{"field":"p2"}}},
{"data":{"name":"notes"},"mark":{"type":"text","align":"left","baseline":"middle","font":"Liberation Sans","color":"#000000"},
 "encoding":{"x":{"field":"i","type":"quantitative","title":null,"scale":{"domain":[-0.75,813.25],"nice":false,"zero":false}},
  "y":{"field":"p","type":"quantitative","title":null,"scale":{"domain":[1.18479,1.22051],"nice":false,"zero":false},
   "axis":{"orient":"right","values":[1.21975,1.2184,1.21705,1.2157,1.21435,1.21305,1.2117,1.21035,1.209,1.20765,1.20635,1.205,1.20365,1.2023,1.20095,1.19965,1.1983,1.19695,1.1956,1.19425,1.19295,1.1916,1.19025,1.1889,1.18625,1.1849],"labelAlign":"left","labelBaseline":"middle","labelPadding":3,"grid":false,"domain":false,"labelOverlap":false,"labelFlush":false,"labelExpr":"format(datum.value,'.5f')"}},
  "size":{"field":"k","type":"nominal","scale":{"type":"ordinal","domain":["big","small","title","glyph"],"range":[18,12,9.4,7]},"legend":null},
  "text":{"field":"t"}}},
{"data":{"name":"levels"},"mark":{"type":"rule","strokeWidth":11,"strokeCap":"butt"},
 "encoding":{"x":{"datum":814.5,"type":"quantitative","title":null,"scale":{"domain":[-0.75,813.25],"nice":false,"zero":false}},
  "x2":{"datum":834.75},
  "y":{"field":"p","type":"quantitative","title":null,"scale":{"domain":[1.18479,1.22051],"nice":false,"zero":false},
   "axis":{"orient":"right","values":[1.21975,1.2184,1.21705,1.2157,1.21435,1.21305,1.2117,1.21035,1.209,1.20765,1.20635,1.205,1.20365,1.2023,1.20095,1.19965,1.1983,1.19695,1.1956,1.19425,1.19295,1.1916,1.19025,1.1889,1.18625,1.1849],"labelAlign":"left","labelBaseline":"middle","labelPadding":3,"grid":false,"domain":false,"labelOverlap":false,"labelFlush":false,"labelExpr":"format(datum.value,'.5f')"}},
  "color":{"field":"k","type":"nominal","scale":{"domain":["hline","bid"],"range":["#2F4F4F","#000000"]},"legend":null}}},
{"data":{"name":"levels"},"mark":{"type":"text","align":"left","baseline":"middle","font":"Liberation Sans","fontSize":9.5,"color":"#FFFFFF"},
 "encoding":{"x":{"datum":815.6,"type":"quantitative","title":null,"scale":{"domain":[-0.75,813.25],"nice":false,"zero":false}},
  "y":{"field":"p","type":"quantitative","title":null,"scale":{"domain":[1.18479,1.22051],"nice":false,"zero":false},
   "axis":{"orient":"right","values":[1.21975,1.2184,1.21705,1.2157,1.21435,1.21305,1.2117,1.21035,1.209,1.20765,1.20635,1.205,1.20365,1.2023,1.20095,1.19965,1.1983,1.19695,1.1956,1.19425,1.19295,1.1916,1.19025,1.1889,1.18625,1.1849],"labelAlign":"left","labelBaseline":"middle","labelPadding":3,"grid":false,"domain":false,"labelOverlap":false,"labelFlush":false,"labelExpr":"format(datum.value,'.5f')"}},
  "text":{"field":"t"}}}
]
}
